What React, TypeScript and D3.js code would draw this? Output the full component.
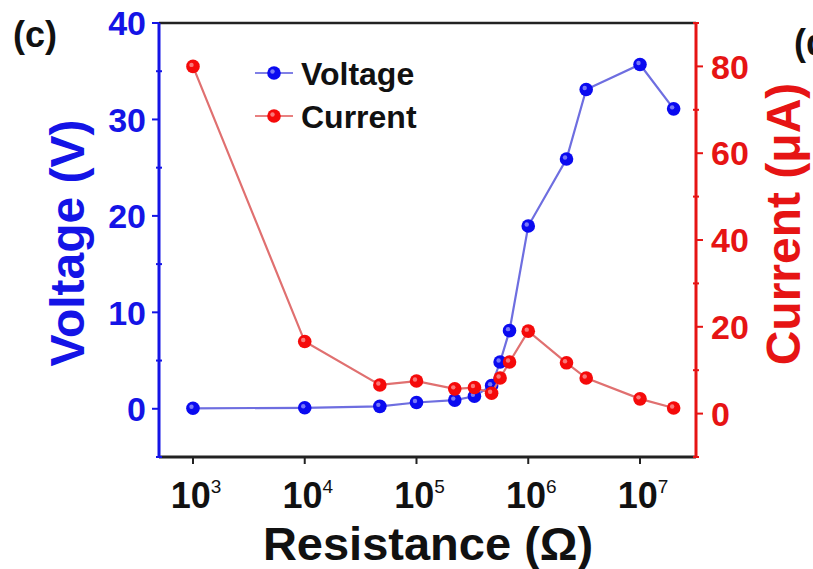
import React from "react";
import * as d3 from "d3";

const resistance = [1e3, 1e4, 4.7e4, 1e5, 2.2e5, 3.3e5, 4.7e5, 5.6e5, 6.8e5, 1e6, 2.2e6, 3.3e6, 1e7, 2e7];
const voltage = [0.05, 0.1, 0.25, 0.65, 0.9, 1.3, 2.4, 4.85, 8.1, 18.95, 25.9, 33.1, 35.7, 31.1];
const current = [80, 16.6, 6.6, 7.5, 5.7, 6.0, 4.7, 8.2, 11.9, 19.0, 11.7, 8.2, 3.4, 1.3];
const xTickExponents = [3, 4, 5, 6, 7];
const voltageTicks = [0, 10, 20, 30, 40];
const voltageMinor = [-5, 5, 15, 25, 35];
const currentTicks = [0, 20, 40, 60, 80];
const currentMinor = [-10, 10, 30, 50, 70, 90];
const seriesNames = ["Voltage", "Current"];

const W = 813;
const H = 569;
const L = 159, R = 696, T = 23, B = 457;
const FONT = "'Liberation Sans', Arial, Helvetica, sans-serif";
const BLUE = "#1414e6";
const RED = "#e61414";

export default function App() {
  const x = d3.scaleLog().domain([Math.pow(10, 2.696), Math.pow(10, 7.501)]).range([L, R]);
  const yV = d3.scaleLinear().domain([-5, 40]).range([B, T]);
  const yI = d3.scaleLinear().domain([-10, 90]).range([B, T]);

  const lineV = d3.line<number>().x((_, i) => x(resistance[i])).y((d) => yV(d));
  const lineI = d3.line<number>().x((_, i) => x(resistance[i])).y((d) => yI(d));

  const marker = (cx: number, cy: number, fill: string, key: string) => (
    <g key={key}>
      <circle cx={cx} cy={cy} r={6.8} fill={fill} />
      <circle cx={cx - 1.5} cy={cy - 1.5} r={2.2} fill="#ffffff" opacity={0.45} />
    </g>
  );

  return (
    <svg width={W} height={H} style={{ position: "absolute", left: 0, top: 0, background: "#fff" }}>
      <rect x={0} y={0} width={W} height={H} fill="#fff" />
      {/* panel labels */}
      <text x={13} y={47} fontFamily={FONT} fontWeight="bold" fontSize={36} fill="#111">(c)</text>
      <text x={794} y={55} fontFamily={FONT} fontWeight="bold" fontSize={36} fill="#111">(d</text>

      {/* frame */}
      <line x1={L} x2={R} y1={T} y2={T} stroke="#222" strokeWidth={2.5} />
      <line x1={L} x2={R} y1={B} y2={B} stroke="#222" strokeWidth={3} />

      {/* x ticks */}
      {xTickExponents.map((e) => {
        const px = x(Math.pow(10, e));
        return (
          <g key={"xt" + e}>
            <line x1={px} x2={px} y1={B} y2={B + 7} stroke="#222" strokeWidth={2} />
            <text x={px + 3} y={508} textAnchor="middle" fontFamily={FONT} fontWeight="bold" fontSize={36} fill="#111">
              10<tspan dy={-15} fontSize={19} fontWeight="normal">{e}</tspan>
            </text>
          </g>
        );
      })}
      <text x={428} y={560} textAnchor="middle" fontFamily={FONT} fontWeight="bold" fontSize={47} fill="#111">
        Resistance (Ω)
      </text>

      {/* left axis */}
      <line x1={L} x2={L} y1={T} y2={B} stroke={BLUE} strokeWidth={3} />
      {voltageTicks.map((v) => (
        <g key={"vt" + v}>
          <line x1={L - 7} x2={L} y1={yV(v)} y2={yV(v)} stroke={BLUE} strokeWidth={2} />
          <text x={146} y={yV(v)} dy="0.36em" textAnchor="end" fontFamily={FONT} fontWeight="bold" fontSize={34} fill={BLUE}>
            {v}
          </text>
        </g>
      ))}
      {voltageMinor.map((v) => (
        <line key={"vm" + v} x1={L - 3} x2={L + 3} y1={yV(v)} y2={yV(v)} stroke={BLUE} strokeWidth={2} />
      ))}
      <text
        transform={`translate(84,243) rotate(-90)`}
        textAnchor="middle"
        fontFamily={FONT}
        fontWeight="bold"
        fontSize={48}
        fill={BLUE}
      >
        Voltage (V)
      </text>

      {/* right axis */}
      <line x1={R} x2={R} y1={T} y2={B} stroke={RED} strokeWidth={3} />
      {currentTicks.map((v) => (
        <g key={"ct" + v}>
          <line x1={R} x2={R + 7} y1={yI(v)} y2={yI(v)} stroke={RED} strokeWidth={2} />
          <text x={711} y={yI(v)} dy="0.36em" textAnchor="start" fontFamily={FONT} fontWeight="bold" fontSize={34} fill={RED}>
            {v}
          </text>
        </g>
      ))}
      {currentMinor.map((v) => (
        <line key={"cm" + v} x1={R - 3} x2={R + 3} y1={yI(v)} y2={yI(v)} stroke={RED} strokeWidth={2} />
      ))}
      <text
        transform={`translate(800,224) rotate(-90)`}
        textAnchor="middle"
        fontFamily={FONT}
        fontWeight="bold"
        fontSize={48}
        fill={RED}
      >
        Current (μA)
      </text>

      {/* series */}
      <path d={lineV(voltage) || ""} fill="none" stroke="#6e6ee0" strokeWidth={2.2} />
      {voltage.map((v, i) => marker(x(resistance[i]), yV(v), "#0a0af0", "v" + i))}
      <path d={lineI(current) || ""} fill="none" stroke="#e07070" strokeWidth={2.2} />
      {current.map((v, i) => marker(x(resistance[i]), yI(v), "#f50a0a", "i" + i))}

      {/* legend */}
      {seriesNames.map((name, i) => {
        const ly = 73 + i * 43;
        const col = i === 0 ? "#0a0af0" : "#f50a0a";
        const lc = i === 0 ? "#8080e6" : "#e88080";
        return (
          <g key={"lg" + name}>
            <line x1={255} x2={293} y1={ly} y2={ly} stroke={lc} strokeWidth={2.2} />
            {marker(274, ly, col, "lm" + i)}
            <text x={301} y={ly} dy="0.36em" fontFamily={FONT} fontWeight="bold" fontSize={32} fill="#111">
              {name}
            </text>
          </g>
        );
      })}
    </svg>
  );
}
